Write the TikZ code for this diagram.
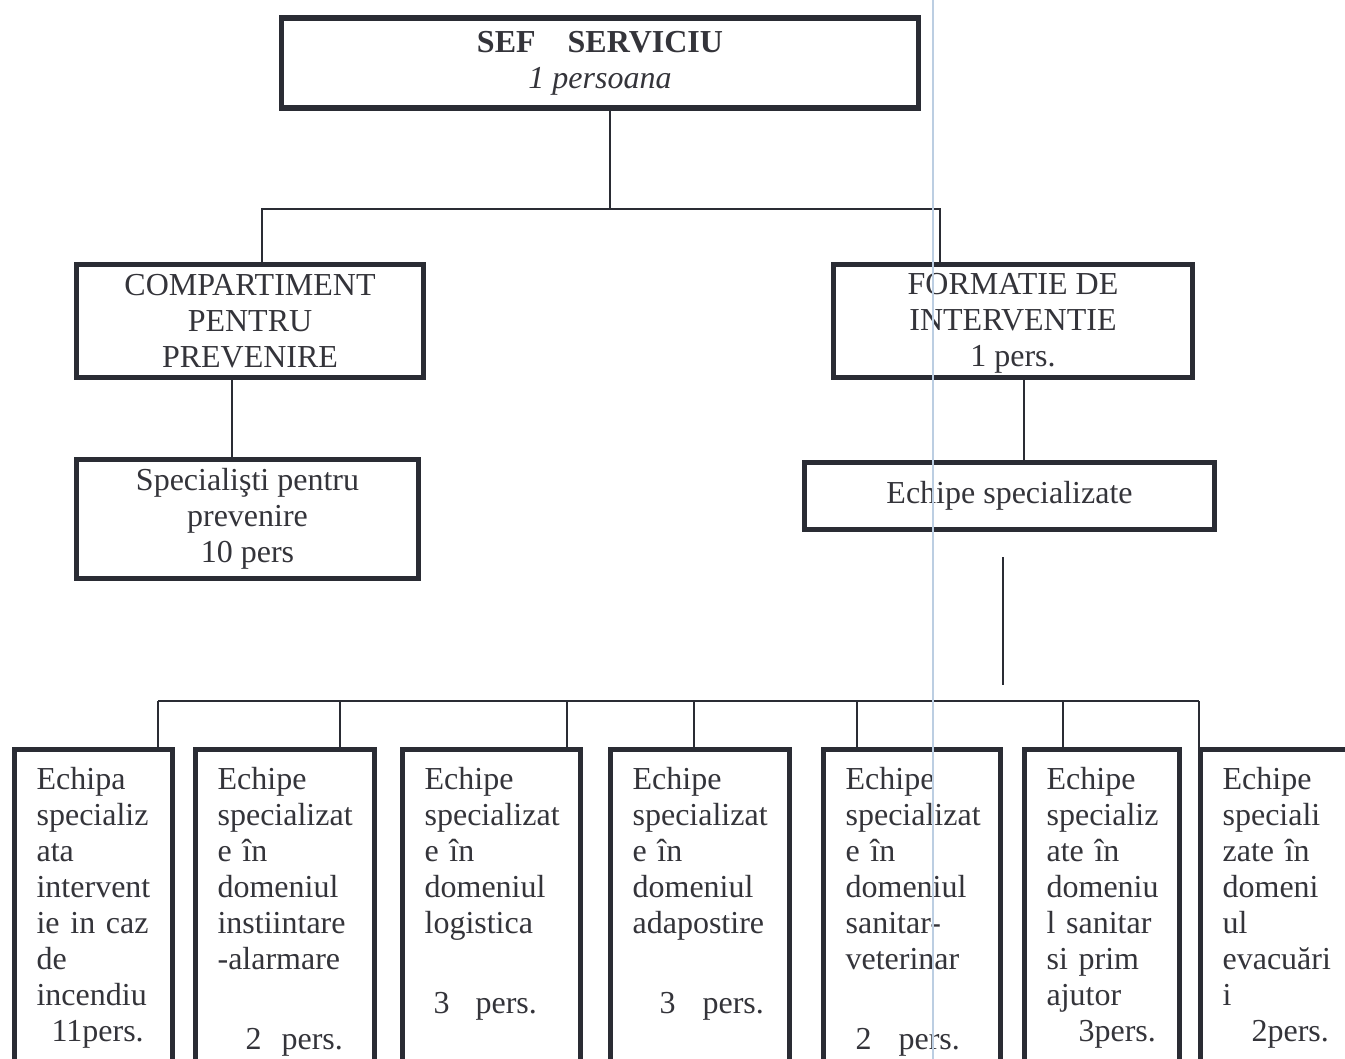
\documentclass[tikz,border=0pt]{standalone}
\usepackage{fontspec}
\setmainfont{Liberation Serif}
\definecolor{ink}{RGB}{42,44,52}
\definecolor{txt}{RGB}{52,52,58}
\definecolor{scanline}{RGB}{188,206,226}
\tikzset{
    unit/.style={draw=ink, line width=2.6pt, text=txt, align=center, inner sep=0pt, font=\fontsize{16pt}{18pt}\selectfont},
    team/.style={draw=ink, line width=2.6pt, text=txt, anchor=north west, inner xsep=11pt, inner ysep=9pt, font=\fontsize{16pt}{18pt}\selectfont},
    link/.style={draw=ink, line width=0.8pt}
}
\newcommand{\teamcol}[1]{\parbox[t][190pt][t]{\linewidth}{\raggedright\hyphenpenalty=10000\exhyphenpenalty=10000 #1}}
\begin{document}
\begin{tikzpicture}[x=0.5pt,y=-0.5pt]
        \useasboundingbox (0,0) rectangle (1345,1059);
        \clip (0,0) rectangle (1345,1059);
        \fill[white] (0,0) rectangle (1345,1059);
        \node[unit, minimum width=318.5pt, minimum height=45pt] (sef) at (600,63) {\textbf{SEF\quad SERVICIU}\\\textit{1 persoana}};
        \node[unit, minimum width=173.5pt, minimum height=56.5pt] (comp) at (250,321) {COMPARTIMENT\\PENTRU\\PREVENIRE};
        \node[unit, minimum width=171pt, minimum height=59.5pt] (spec) at (247.5,519) {Specialişti pentru\\prevenire\\10 pers};
        \node[unit, minimum width=179.5pt, minimum height=56.5pt] (form) at (1013,321) {\vphantom{\"A}FORMATIE DE\\INTERVENTIE\\1 pers.};
        \node[unit, minimum width=205pt, minimum height=33.5pt] (ech) at (1009.5,496) {Echipe specializate};
        \node[team, text width=57pt] (b1) at (12,747) {\teamcol{Echipa\\specializ\\ata\\intervent\\ie in caz\\de\\incendiu\\\hspace*{7.5pt}11pers.}};
        \node[team, text width=67.5pt] (b2) at (193,747) {\teamcol{Echipe\\specializat\\e în\\domeniul\\instiintare\\-alarmare\\[22pt]\hspace*{14pt}2\hspace{10pt}pers.}};
        \node[team, text width=67pt] (b3) at (400,747) {\teamcol{Echipe\\specializat\\e în\\domeniul\\logistica\\[22pt]\hspace*{4.5pt}3\hspace{13pt}pers.}};
        \node[team, text width=67.5pt] (b4) at (608,747) {\teamcol{Echipe\\specializat\\e în\\domeniul\\adapostire\\[22pt]\hspace*{13.5pt}3\hspace{13.5pt}pers.}};
        \node[team, text width=66.5pt] (b5) at (821,747) {\teamcol{Echipe\\specializat\\e în\\domeniul\\sanitar-\\veterinar\\[22pt]\hspace*{5pt}2\hspace{13.5pt}pers.}};
        \node[team, text width=55.5pt] (b6) at (1022,747) {\teamcol{Echipe\\specializ\\ate în\\domeniu\\l sanitar\\si prim\\ajutor\\\hspace*{16pt}3pers.}};
        \node[team, text width=60pt] (b7) at (1198,747) {\teamcol{Echipe\\speciali\\zate în\\domeni\\ul\\evacuări\\i\\\hspace*{14.5pt}2pers.}};
        \coordinate (hub) at (610,209);
        \coordinate (busL) at (262,209);
        \coordinate (busR) at (940,209);
        \coordinate (cdrop) at (232,0);
        \coordinate (fdrop) at (1024,0);
        \coordinate (gapTop) at (1003,557);
        \coordinate (gapBot) at (1003,685);
        \draw[link] (sef.south -| hub) -- (hub);
        \draw[link] (busL |- comp.north) -- (busL) -- (busR) -- (busR |- form.north);
        \draw[link] (cdrop |- comp.south) -- (cdrop |- spec.north);
        \draw[link] (fdrop |- form.south) -- (fdrop |- ech.north);
        \draw[link] (gapTop) -- (gapBot);
        \foreach \n/\x in {b1/158,b2/340,b3/567,b4/694,b5/857,b6/1063,b7/1199}{
            \coordinate (t\n) at (\x,701);
            \draw[link] (t\n) -- (t\n |- \n.north);
        }
        \draw[link] (tb1) -- (tb7);
        \draw[scanline, line width=0.6pt] (933,0) -- (933,1059);
\end{tikzpicture}
\end{document}
